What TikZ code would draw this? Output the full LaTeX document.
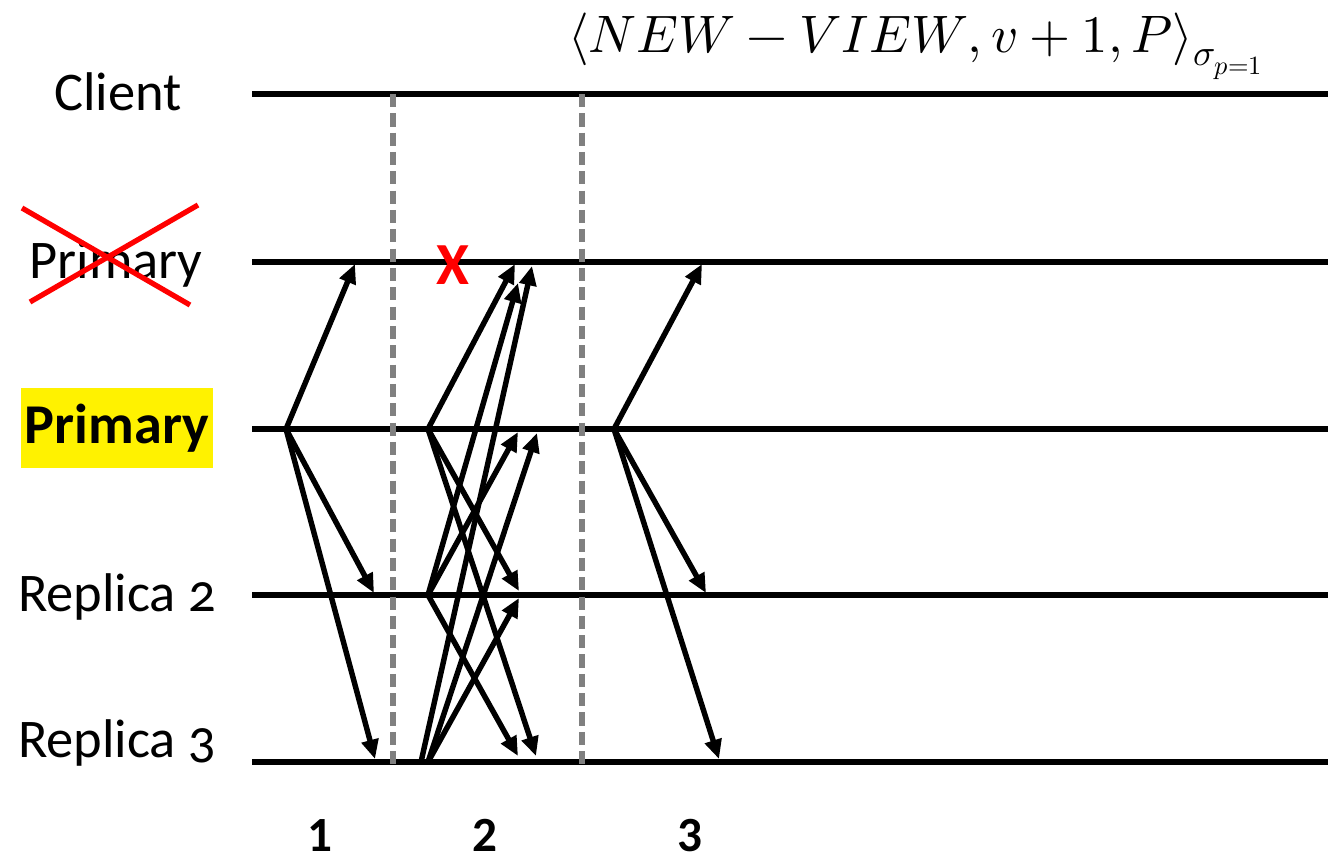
\documentclass[tikz,border=0pt]{standalone}
\usepackage{fontspec}
\usepackage{unicode-math}
\setmainfont{Carlito}[Numbers=OldStyle]
\newfontfamily\numfont{Carlito}[Numbers=Lining]
\setmathfont{Latin Modern Math}
\usetikzlibrary{arrows.meta}

\tikzset{
  lane/.style={line width=3.3pt},
  msg/.style={line width=3.1pt, -{Triangle[length=11pt,width=9.5pt]}},
  phase/.style={line width=3pt, draw=black!50, dash pattern=on 7.5pt off 3.5pt},
  lbl/.style={anchor=base, font=\fontsize{31}{34}\selectfont},
  crossout/.style={line width=3pt, red},
}

\begin{document}
\begin{tikzpicture}[x=0.02cm, y=-0.02cm]
\useasboundingbox (0,0) rectangle (1328,863);

% ── Lineas de tiempo ─────────────────────────────────────────
\foreach \n/\y in {cl/94, op/262, pr/429, r2/595, r3/762} {
  \coordinate (\n-w) at (252,\y);
  \coordinate (\n-e) at (1328,\y);
  \draw[lane] (\n-w) -- (\n-e);
}

% Etiquetas de las replicas
\node[lbl] (client)  at (118,110) {Client};
\node[lbl] (oldprim) at (116,278) {Primary};
\node[lbl, fill=yellow, inner xsep=2pt, inner ysep=9pt,
      font=\fontsize{32}{34}\selectfont\bfseries] (primary) at (117,443) {Primary};
\node[lbl] (replica2) at (117,611) {Replica 2};
\node[lbl] (replica3) at (117,757) {Replica 3};

% Primario caido
\coordinate (x1-a) at (22,208);
\coordinate (x1-b) at (190,305);
\coordinate (x2-a) at (198,205);
\coordinate (x2-b) at (30,302);
\draw[crossout] (x1-a) -- (x1-b);
\draw[crossout] (x2-a) -- (x2-b);
\node[anchor=base, text=red, font=\fontsize{34}{36}\selectfont\bfseries] (fail) at (453,284) {X};

% ── Separadores de fase ──────────────────────────────────────
\coordinate (d1-t) at (393,94);
\coordinate (d1-b) at (393,766);
\coordinate (d2-t) at (582,94);
\coordinate (d2-b) at (582,766);
\draw[phase] (d1-t) -- (d1-b);
\draw[phase] (d2-t) -- (d2-b);

% ── Fase 1 ───────────────────────────────────────────────────
\coordinate (s1)    at (286,429);
\coordinate (t1-op) at (355,264);
\coordinate (t1-r2) at (374,593);
\coordinate (t1-r3) at (375,759);
\draw[msg] (s1) -- (t1-op);
\draw[msg] (s1) -- (t1-r2);
\draw[msg] (s1) -- (t1-r3);

% ── Fase 2 ───────────────────────────────────────────────────
\coordinate (s2-pr)  at (428,429);
\coordinate (s2-r2)  at (428,595);
\coordinate (s2-r3a) at (421,762);
\coordinate (s2-r3b) at (428,762);
% desde el primario
\coordinate (t2-op1) at (515,264);
\coordinate (t2-r2a) at (519,591);
\coordinate (t2-r3a) at (536,756);
\draw[msg] (s2-pr) -- (t2-op1);
\draw[msg] (s2-pr) -- (t2-r2a);
\draw[msg] (s2-pr) -- (t2-r3a);
% desde la replica 2
\coordinate (t2-op2) at (518,283);
\coordinate (t2-pra) at (518,432);
\coordinate (t2-r3b) at (518,756);
\draw[msg] (s2-r2) -- (t2-op2);
\draw[msg] (s2-r2) -- (t2-pra);
\draw[msg] (s2-r2) -- (t2-r3b);
% desde la replica 3
\coordinate (t2-op3) at (532,266);
\coordinate (t2-prb) at (537,433);
\coordinate (t2-r2b) at (519,598);
\draw[msg] (s2-r3a) -- (t2-op3);
\draw[msg] (s2-r3b) -- (t2-prb);
\draw[msg] (s2-r3b) -- (t2-r2b);

% ── Fase 3 ───────────────────────────────────────────────────
\coordinate (s3)    at (614,429);
\coordinate (t3-op) at (702,264);
\coordinate (t3-r2) at (706,593);
\coordinate (t3-r3) at (719,759);
\draw[msg] (s3) -- (t3-op);
\draw[msg] (s3) -- (t3-r2);
\draw[msg] (s3) -- (t3-r3);

% Mensaje NEW-VIEW
\node[anchor=base west, inner sep=0pt, font=\fontsize{30}{33}\selectfont] (newview) at (568,52)
  {$\langle NEW - VIEW, v+1, P\rangle_{\sigma_{p=1}}$};

% ── Numeros de fase ──────────────────────────────────────────
\foreach \k/\x in {1/320, 2/485, 3/690}
  \node[anchor=south, inner sep=0pt, text depth=0pt,
        font=\fontsize{28}{30}\selectfont\numfont\bfseries] (ph\k) at (\x,852) {\k};

\end{tikzpicture}
\end{document}
